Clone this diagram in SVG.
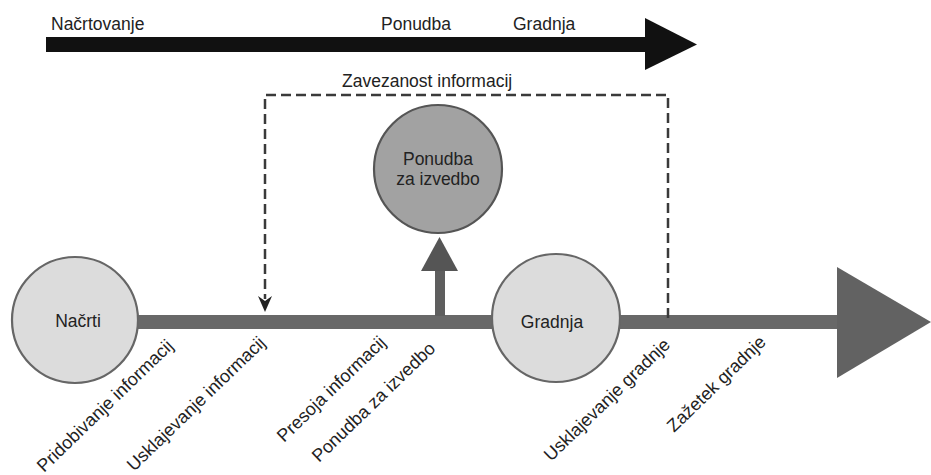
<svg xmlns="http://www.w3.org/2000/svg" width="931" height="475" viewBox="0 0 931 475">
  <defs>
    <style>
      text { font-family: "Liberation Sans", Arial, sans-serif; fill: #222; font-size: 17.5px; }
      .node-light { fill: #dcdcdc; stroke: #666; stroke-width: 2.2; }
      .node-dark { fill: #a2a2a2; stroke: #555; stroke-width: 2.2; }
      .dash { fill: none; stroke: #3a3a3a; stroke-width: 2.5; stroke-dasharray: 10 5; }
      .label { text-anchor: start; font-size: 18px; }
    </style>
  </defs>

  <rect width="931" height="475" fill="#fff"/>

  <!-- phase timeline at the top -->
  <g id="phase-arrow">
    <rect x="46" y="37" width="602" height="15" fill="#111"/>
    <polygon points="645,18 697,44.5 645,70" fill="#111"/>
    <text x="51" y="30">Načrtovanje</text>
    <text x="381" y="30">Ponudba</text>
    <text x="513" y="30">Gradnja</text>
  </g>

  <!-- connectors -->
  <g id="connectors">
    <!-- main process line -->
    <rect x="136" y="315" width="705" height="14" fill="#686868"/>
    <polygon points="837,267 931,322 837,378" fill="#626262"/>
    <!-- branch up to the tender node -->
    <rect x="435" y="268" width="10" height="48" fill="#5e5e5e"/>
    <polygon points="421,271 458,271 439.5,237" fill="#555"/>
    <!-- information commitment loop -->
    <path class="dash" d="M668,318 V95 H265 V299"/>
    <polygon points="258,296 265,301 272,296 265,312" fill="#222"/>
    <text x="342" y="87">Zavezanost informacij</text>
  </g>

  <g id="node-nacrti">
    <circle class="node-light" cx="75" cy="320" r="63"/>
    <text x="78" y="327" text-anchor="middle">Načrti</text>
  </g>

  <g id="node-ponudba">
    <circle class="node-dark" cx="438" cy="169" r="64"/>
    <text x="438" y="165" text-anchor="middle">Ponudba</text>
    <text x="438" y="185" text-anchor="middle">za izvedbo</text>
  </g>

  <g id="node-gradnja">
    <circle class="node-light" cx="556" cy="318" r="64"/>
    <text x="552" y="328" text-anchor="middle">Gradnja</text>
  </g>

  <!-- milestone labels along the process line -->
  <g id="milestones">
    <text class="label" transform="translate(44,473) rotate(-44)">Pridobivanje informacij</text>
    <text class="label" transform="translate(134,472) rotate(-44)">Usklajevanje informacij</text>
    <text class="label" transform="translate(284,443) rotate(-44)">Presoja informacij</text>
    <text class="label" transform="translate(319,463) rotate(-44)">Ponudba za izvedbo</text>
    <text class="label" transform="translate(551,462) rotate(-44)">Usklajevanje gradnje</text>
    <text class="label" transform="translate(674,433) rotate(-44)">Zažetek gradnje</text>
  </g>
</svg>
